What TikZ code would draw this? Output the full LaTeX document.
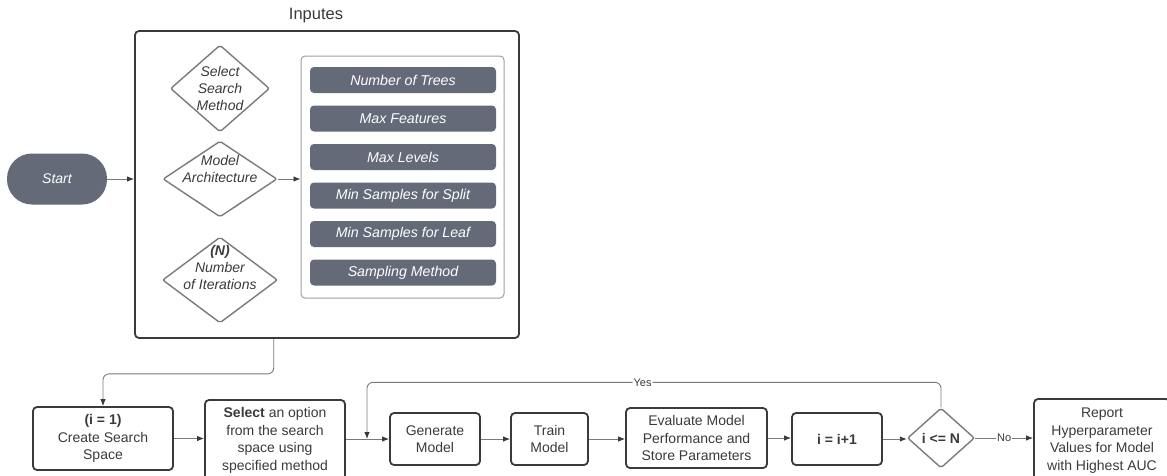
\documentclass[tikz,border=0pt]{standalone}
\usepackage{fontspec}
\setmainfont{Liberation Sans}
\usetikzlibrary{shapes.geometric,arrows.meta,calc}

\definecolor{slate}{HTML}{646A78}
\definecolor{ink}{HTML}{3A3A3A}
\definecolor{wire}{HTML}{7A7A7A}
\definecolor{rim}{HTML}{A0A0A0}

\tikzset{
  stepbox/.style={draw=ink, line width=1.8pt, rounded corners=4pt, align=center, text=ink, inner sep=0pt, font=\fontsize{14}{17.5}\selectfont},
  param/.style={fill=slate, rounded corners=4pt, minimum width=186pt, minimum height=26pt, inner sep=0pt, text=white, font=\fontsize{14.2}{16}\selectfont\itshape},
  choice/.style={diamond, draw=wire, line width=1.4pt, rounded corners=2pt, inner sep=0pt},
  ctext/.style={align=center, text=ink, font=\fontsize{14}{17}\selectfont\itshape},
  link/.style={draw=wire, line width=0.9pt, rounded corners=6pt, -{Latex[length=7pt,width=5.5pt,color=ink]}},
  lbl/.style={fill=white, inner sep=1pt, text=ink, font=\fontsize{11}{13}\selectfont},
}

\begin{document}
\begin{tikzpicture}[x=1pt,y=-1pt]
\useasboundingbox (0,0) rectangle (1167,475);

% inputs block
\node[font=\fontsize{16.5}{18}\selectfont, text=ink] (title) at (316,16) {Inputes};
\node[draw=ink, line width=1.8pt, rounded corners=4pt, minimum width=384pt, minimum height=307pt] (inputs) at (327,184.5) {};
\node[draw=rim, line width=1pt, rounded corners=4pt, minimum width=203pt, minimum height=242pt] (params) at (402.5,177) {};

\node[fill=slate, rounded corners=25pt, minimum width=100pt, minimum height=51pt, text=white, font=\fontsize{14}{16}\selectfont\itshape] (start) at (57,179) {Start};

\node[choice, minimum width=99pt, minimum height=87pt, label={[ctext]center:Select\\Search\\Method}] (method) at (220,88.5) {};
\node[choice, minimum width=114pt, minimum height=76pt, label={[ctext,yshift=10pt]center:Model\\Architecture}] (arch) at (220,179) {};
\node[choice, minimum width=115pt, minimum height=86pt, label={[ctext,yshift=13pt]center:\textbf{(N)}\\Number\\of Iterations}] (iter) at (220,280) {};

\foreach \txt [count=\i] in {Number of Trees, Max Features, Max Levels, Min Samples for Split, Min Samples for Leaf, Sampling Method}
  \node[param] (p\i) at (403,41.5+38.5*\i) {\txt};

% search loop
\node[stepbox, minimum width=140pt, minimum height=63pt] (init) at (103,438.5) {\textbf{(i = 1)}\\Create Search\\Space};
\node[stepbox, minimum width=140pt, minimum height=81pt] (pick) at (275,440.5) {\textbf{Select} an option\\from the search\\space using\\specified method};
\node[stepbox, minimum width=90pt, minimum height=52pt] (gen) at (435,439) {Generate\\Model};
\node[stepbox, minimum width=77pt, minimum height=52pt] (train) at (549.5,439) {Train\\Model};
\node[stepbox, minimum width=141pt, minimum height=60pt] (eval) at (696.5,438) {Evaluate Model\\Performance and\\Store Parameters};
\node[stepbox, minimum width=90pt, minimum height=52pt] (incr) at (837,439) {\textbf{i = i+1}};
\node[choice, minimum width=67pt, minimum height=60pt, label={[ctext, font=\fontsize{14}{17}\selectfont\bfseries]center:i <= N}] (check) at (941,438) {};
\node[stepbox, minimum width=136pt, minimum height=83pt] (report) at (1102,440.5) {Report\\Hyperparameter\\Values for Model\\with Highest AUC};

\coordinate (tap) at ($(inputs.south west)!0.362!(inputs.south east)$);
\coordinate (merge) at (367,439);

\draw[link] (start) -- (start -| inputs.west);
\draw[link] (arch.east) -- (arch.east -| params.west);
\draw[link] (tap) -- ++(0,35) -| (init.north);
\draw[link] (init) -- (init -| pick.west);
\draw[link] (pick.east |- gen) -- (gen.west);
\draw[link] (gen) -- (train);
\draw[link] (train) -- (train -| eval.west);
\draw[link] (eval) -- (eval -| incr.west);
\draw[link] (incr) -- (incr -| check.west);
\draw[link] (check.north) -- ++(0,-25) -| node[lbl, pos=0.26] {Yes} (merge);
\draw[link] (check.east) -- node[lbl] {No} (check.east -| report.west);
\end{tikzpicture}
\end{document}
